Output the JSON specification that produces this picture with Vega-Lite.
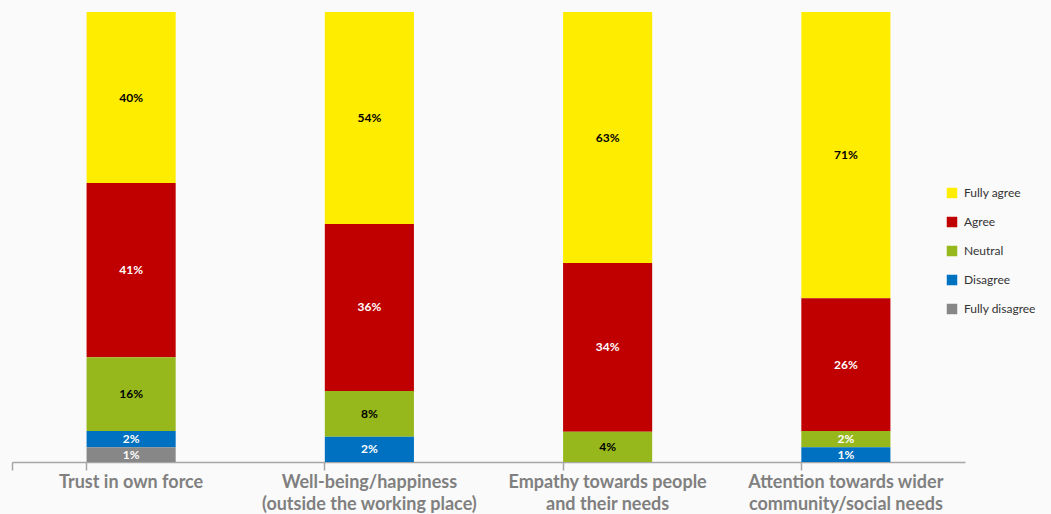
{
  "$schema": "https://vega.github.io/schema/vega-lite/v6.json",
  "width": 953,
  "height": 450,
  "autosize": {"type": "none"},
  "padding": {"left": 12, "top": 12, "right": 86, "bottom": 52},
  "background": "#fafafa",
  "config": {"view": {"stroke": null}, "font": "Lato"},
  "data": {
    "values": [
      {"item": "Trust in own force", "category": "Fully agree", "rank": 5, "pct": "40%", "share": 38.0},
      {"item": "Trust in own force", "category": "Agree", "rank": 4, "pct": "41%", "share": 38.7},
      {"item": "Trust in own force", "category": "Neutral", "rank": 3, "pct": "16%", "share": 16.4},
      {"item": "Trust in own force", "category": "Disagree", "rank": 2, "pct": "2%", "share": 3.6},
      {"item": "Trust in own force", "category": "Fully disagree", "rank": 1, "pct": "1%", "share": 3.3},
      {"item": "Well-being/happiness|(outside the working place)", "category": "Fully agree", "rank": 5, "pct": "54%", "share": 47.1},
      {"item": "Well-being/happiness|(outside the working place)", "category": "Agree", "rank": 4, "pct": "36%", "share": 37.1},
      {"item": "Well-being/happiness|(outside the working place)", "category": "Neutral", "rank": 3, "pct": "8%", "share": 10.2},
      {"item": "Well-being/happiness|(outside the working place)", "category": "Disagree", "rank": 2, "pct": "2%", "share": 5.6},
      {"item": "Empathy towards people|and their needs", "category": "Fully agree", "rank": 5, "pct": "63%", "share": 55.8},
      {"item": "Empathy towards people|and their needs", "category": "Agree", "rank": 4, "pct": "34%", "share": 37.5},
      {"item": "Empathy towards people|and their needs", "category": "Neutral", "rank": 3, "pct": "4%", "share": 6.7},
      {"item": "Attention towards wider|community/social needs", "category": "Fully agree", "rank": 5, "pct": "71%", "share": 63.6},
      {"item": "Attention towards wider|community/social needs", "category": "Agree", "rank": 4, "pct": "26%", "share": 29.5},
      {"item": "Attention towards wider|community/social needs", "category": "Neutral", "rank": 3, "pct": "2%", "share": 3.6},
      {"item": "Attention towards wider|community/social needs", "category": "Disagree", "rank": 2, "pct": "1%", "share": 3.3}
    ]
  },
  "transform": [
    {"stack": "share", "groupby": ["item"], "sort": [{"field": "rank", "order": "ascending"}], "as": ["y0", "y1"]},
    {"calculate": "(datum.y0 + datum.y1) / 2", "as": "ymid"}
  ],
  "encoding": {
    "x": {
      "field": "item",
      "type": "nominal",
      "sort": null,
      "title": null,
      "scale": {"paddingInner": 0.626, "paddingOuter": 0.313},
      "axis": {
        "labelExpr": "split(datum.label, '|')",
        "labelAngle": 0,
        "labelFont": "Lato",
        "labelFontWeight": "bold",
        "labelFontSize": 18,
        "labelColor": "#808080",
        "labelLimit": 400,
        "labelPadding": 3,
        "labelLineHeight": 22,
        "domainColor": "#a6a6a6",
        "domainWidth": 1.5,
        "ticks": true,
        "tickOpacity": 1,
        "tickColor": "#a6a6a6",
        "tickWidth": 1.5,
        "tickSize": 8,
        "bandPosition": 0,
        "tickExtra": true
      }
    }
  },
  "layer": [
    {
      "mark": {"type": "bar"},
      "encoding": {
        "y": {"field": "y0", "type": "quantitative", "scale": {"domain": [0, 100]}, "axis": null},
        "y2": {"field": "y1"},
        "color": {
          "field": "category",
          "type": "nominal",
          "scale": {
            "domain": ["Fully agree", "Agree", "Neutral", "Disagree", "Fully disagree"],
            "range": ["#ffed00", "#c00000", "#97b81d", "#0070c0", "#878787"]
          },
          "legend": {
            "title": null,
            "orient": "none",
            "legendX": 934,
            "legendY": 175,
            "symbolType": "square",
            "symbolSize": 110,
            "symbolStrokeWidth": 0,
            "labelFontSize": 12,
            "labelColor": "#333333",
            "labelFont": "Lato",
            "rowPadding": 17,
            "labelOffset": 6
          }
        }
      }
    },
    {
      "mark": {"type": "text", "fontSize": 12, "fontWeight": "bold", "baseline": "middle", "font": "Lato"},
      "encoding": {
        "y": {"field": "ymid", "type": "quantitative"},
        "text": {"field": "pct"},
        "color": {
          "condition": {"test": "datum.category === 'Fully agree' || (datum.category === 'Neutral' && datum.share > 5)", "value": "#000000"},
          "value": "#ffffff"
        }
      }
    }
  ]
}
